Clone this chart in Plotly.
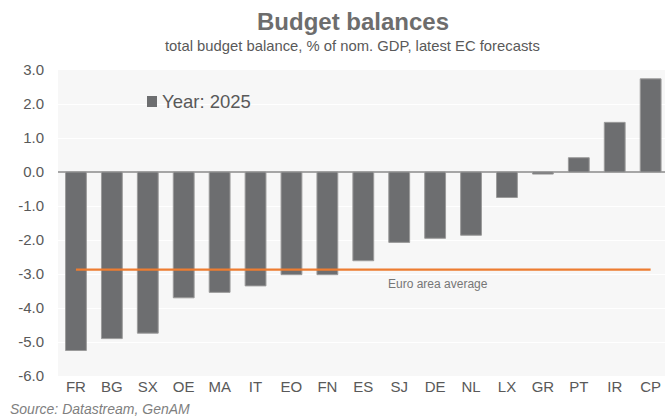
import plotly.graph_objects as go

# EC forecast, total budget balance as % of nominal GDP, 2025
countries = ["FR", "BG", "SX", "OE", "MA", "IT", "EO", "FN", "ES",
             "SJ", "DE", "NL", "LX", "GR", "PT", "IR", "CP"]
balance_2025 = [-5.25, -4.90, -4.74, -3.70, -3.54, -3.35, -3.02, -3.02, -2.61,
                -2.07, -1.95, -1.86, -0.75, -0.06, 0.42, 1.46, 2.74]
euro_area_avg = -2.87
y_ticks = [3, 2, 1, 0, -1, -2, -3, -4, -5, -6]
y_tick_labels = ["3.0", "2.0", "1.0", "0.0", "-1.0", "-2.0", "-3.0", "-4.0", "-5.0", "-6.0"]

FONT = "Liberation Sans, Arial, sans-serif"
BAR = "#6d6e70"
ORANGE = "#ed7d31"
TEXT = "#595959"

W, H = 665, 420
ML, MR, MT, MB = 58, 0, 70, 44
PW, PH = W - ML - MR, H - MT - MB


def px_x(px):
    """Horizontal pixel position -> paper coordinate."""
    return (px - ML) / PW


def px_y(py):
    """Vertical pixel position (from top) -> paper coordinate."""
    return (H - MB - py) / PH


fig = go.Figure()

fig.add_trace(go.Bar(
    x=countries, y=balance_2025, name="Year: 2025",
    width=0.58,
    marker=dict(color=BAR, line=dict(color="#9b9b9b", width=1)),
    showlegend=False,
))

fig.add_trace(go.Scatter(
    x=[countries[0], countries[-1]], y=[euro_area_avg, euro_area_avg],
    mode="lines", line=dict(color=ORANGE, width=2.2),
    showlegend=False, hoverinfo="skip",
))

fig.add_annotation(
    x=8.63, y=euro_area_avg, xref="x", yref="y",
    text="Euro area average", showarrow=False,
    xanchor="left", yanchor="middle", yshift=-14,
    font=dict(family=FONT, size=12, color="#767676"),
)

# series key: swatch + label
fig.add_shape(
    type="rect", xref="paper", yref="paper",
    x0=px_x(147), x1=px_x(157), y0=px_y(107), y1=px_y(96),
    fillcolor=BAR, line=dict(width=0),
)
fig.add_annotation(
    x=px_x(160), y=px_y(101.5), xref="paper", yref="paper",
    xanchor="left", yanchor="middle", showarrow=False,
    text="Year: 2025", font=dict(family=FONT, size=18.5, color=TEXT),
)

fig.add_annotation(
    x=px_x(353), y=px_y(22), xref="paper", yref="paper",
    xanchor="center", yanchor="middle",
    text="<b>Budget balances</b>", showarrow=False,
    font=dict(family=FONT, size=24, color="#6d6d6d"),
)
fig.add_annotation(
    x=px_x(352), y=px_y(46), xref="paper", yref="paper",
    xanchor="center", yanchor="middle",
    text="total budget balance, % of nom. GDP, latest EC forecasts",
    showarrow=False,
    font=dict(family=FONT, size=14.8, color=TEXT),
)
fig.add_annotation(
    x=px_x(8), y=px_y(409), xref="paper", yref="paper", showarrow=False,
    text="<i>Source: Datastream, GenAM</i>",
    font=dict(family=FONT, size=14, color="#7f7f7f"),
    xanchor="left", yanchor="middle",
)

fig.update_layout(
    width=W, height=H,
    margin=dict(l=ML, r=MR, t=MT, b=MB),
    paper_bgcolor="white",
    plot_bgcolor="#f7f7f7",
    font=dict(family=FONT, color=TEXT),
    showlegend=False,
    xaxis=dict(
        range=[-0.5, 16.4],
        showgrid=False, zeroline=False, showline=False,
        ticks="", tickfont=dict(family=FONT, size=15, color=TEXT),
        fixedrange=True,
    ),
    yaxis=dict(
        range=[-6, 3],
        tickvals=y_ticks, ticktext=y_tick_labels,
        showgrid=True, gridcolor="white", gridwidth=1,
        zeroline=True, zerolinecolor="#a6a6a6", zerolinewidth=1.5,
        showline=False, ticks="",
        ticklabelstandoff=13,
        tickfont=dict(family=FONT, size=15, color=TEXT),
        fixedrange=True,
    ),
)

fig.write_html("out.html", config={"displayModeBar": False})
